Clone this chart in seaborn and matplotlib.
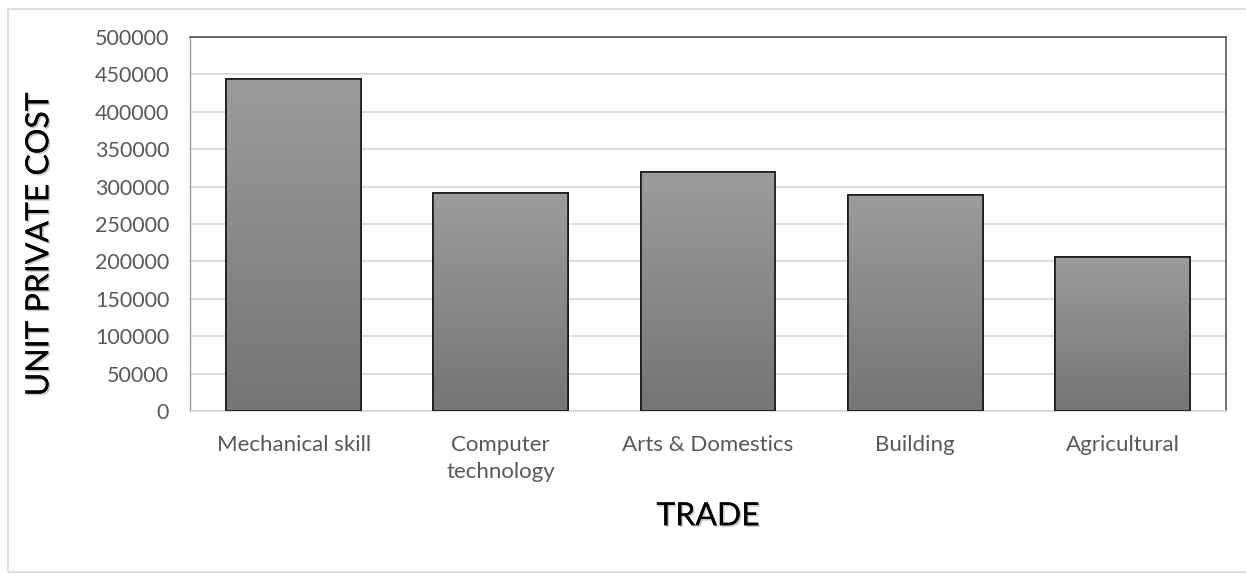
import matplotlib
matplotlib.use("Agg")
import matplotlib.pyplot as plt
import matplotlib.patheffects as pe
import matplotlib.patches as mpatches
import numpy as np
import pandas as pd
import seaborn as sns
from matplotlib.colors import LinearSegmentedColormap

categories = ["Mechanical skill", "Computer\ntechnology", "Arts & Domestics", "Building", "Agricultural"]
values = [443500, 291000, 319500, 289000, 206000]
yticks = [0, 50000, 100000, 150000, 200000, 250000, 300000, 350000, 400000, 450000, 500000]

sns.set_theme(style="white")
plt.rcParams['font.family'] = ['Lato', 'DejaVu Sans']

fig = plt.figure(figsize=(12.46, 5.73), dpi=100)
ax = fig.add_axes([0.1525, 0.2827, 0.8315, 0.6527])

df = pd.DataFrame({"trade": categories, "cost": values})
sns.barplot(data=df, x="trade", y="cost", ax=ax, color="#8a8a8a", width=0.65,
            edgecolor="#1a1a1a", linewidth=1.2, zorder=3)

ax.set_ylim(0, 500000)
ax.set_xlim(-0.5, len(categories) - 0.5)
ax.set_yticks(yticks)
ax.set_yticklabels([str(v) for v in yticks])
ax.yaxis.grid(True, color="#d9d9d9", linewidth=1.3, zorder=0)
ax.set_axisbelow(True)

# gradient fill clipped to each bar
grad = np.linspace(0, 1, 256).reshape(-1, 1)
cmap = LinearSegmentedColormap.from_list("g", ["#757575", "#9c9c9c"])
for p in ax.patches:
    x0, y0 = p.get_x(), p.get_y()
    w, h = p.get_width(), p.get_height()
    im = ax.imshow(grad, extent=[x0, x0 + w, y0, y0 + h], origin="lower",
                   cmap=cmap, aspect="auto", zorder=3.5)
    im.set_clip_path(p)
    outline = mpatches.Rectangle((x0, y0), w, h, fill=False, edgecolor="#1a1a1a",
                                 linewidth=1.2, zorder=4)
    ax.add_patch(outline)

for s in ["top", "right"]:
    ax.spines[s].set_visible(True)
    ax.spines[s].set_color("#555555")
    ax.spines[s].set_linewidth(1.2)
ax.spines["left"].set_visible(True)
ax.spines["left"].set_color("#9a9a9a")
ax.spines["left"].set_linewidth(1.0)
ax.spines["bottom"].set_color("#d9d9d9")
ax.spines["bottom"].set_linewidth(1.3)

ax.tick_params(axis="both", length=0, labelcolor="#595959")
ax.tick_params(axis="y", labelsize=15.5, pad=15)
ax.tick_params(axis="x", labelsize=16, pad=17)
for t in ax.get_xticklabels():
    t.set_linespacing(1.45)

shadow = [pe.withSimplePatchShadow(offset=(1.2, -1.2), shadow_rgbFace="#999999", alpha=0.5), pe.Normal()]
ax.set_ylabel("UNIT PRIVATE COST", fontsize=23, color="black")
ax.yaxis.set_label_coords(-0.131, 0.4465)
ax.yaxis.label.set_path_effects(shadow)
ax.set_xlabel("TRADE", fontsize=23, color="black", labelpad=14)
ax.xaxis.label.set_path_effects(shadow)

# outer chart border (open on the right edge)
border = mpatches.Rectangle((8 / 1246, 1.5 / 573), 1.05, (572 - 9) / 573 - 1.5 / 573 + 1 / 573,
                            transform=fig.transFigure, fill=False,
                            edgecolor="#d9d9d9", linewidth=1.2)
fig.patches.append(border)

fig.savefig("out.png", dpi=100)
